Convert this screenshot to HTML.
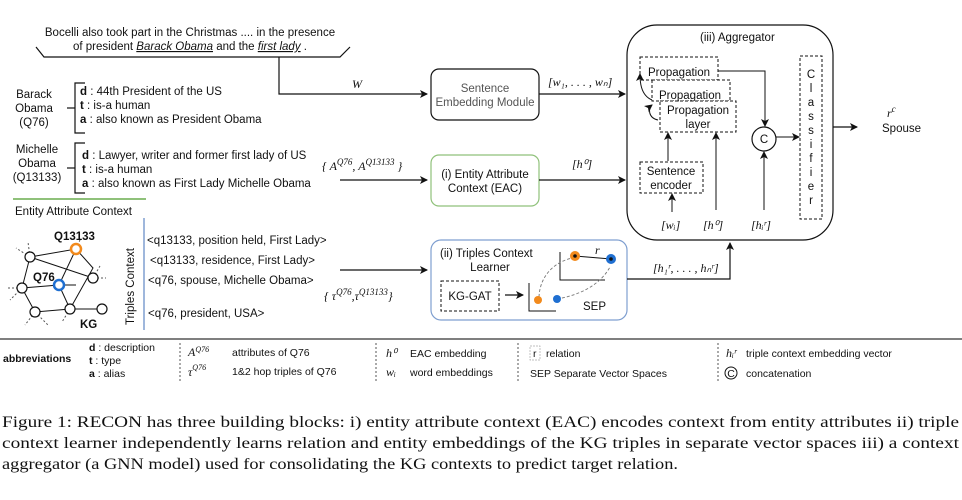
<!DOCTYPE html>
<html><head><meta charset="utf-8"><style>
html,body{margin:0;padding:0;background:#fff;}
svg{display:block;font-family:"Liberation Sans",sans-serif;}
.s{font-size:11.5px;fill:#111;}
.g{font-size:11.5px;fill:#555;}
.m{font-family:"Liberation Serif",serif;font-style:italic;font-size:12px;fill:#111;}
.cap{font-family:"Liberation Serif",serif;font-size:16px;fill:#111;}
.lg{font-size:10.5px;fill:#111;}
</style></head><body>
<svg width="962" height="500" viewBox="0 0 962 500" xmlns="http://www.w3.org/2000/svg">
<defs><marker id="a" markerWidth="8" markerHeight="8" refX="7" refY="4" orient="auto" markerUnits="userSpaceOnUse"><path d="M0,0 L8,4 L0,8 L2,4 z" fill="#111"/></marker></defs>
<g stroke="#111" fill="none" stroke-width="1.2">
<polyline points="36,47 44,57 340,57 350,47"/>
<polyline points="279,57 279,94 427,94" marker-end="url(#a)"/>
<rect x="431" y="69" width="108" height="51" rx="8"/>
<line x1="539" y1="94" x2="625" y2="94" marker-end="url(#a)"/>
<rect x="431" y="155" width="108" height="51" rx="8" stroke="#8fc17a"/>
<line x1="539" y1="180" x2="625" y2="180" marker-end="url(#a)"/>
<line x1="340" y1="180" x2="427" y2="180" marker-end="url(#a)"/>
<line x1="340" y1="270" x2="427" y2="270" marker-end="url(#a)"/>
<rect x="431" y="240" width="196" height="80" rx="10" stroke="#7f9fd0"/>
<polyline points="627,279 730,279 730,243" marker-end="url(#a)"/>
<rect x="627" y="25" width="206" height="215" rx="30"/>
<line x1="833" y1="127" x2="857" y2="127" marker-end="url(#a)"/>
<g stroke-dasharray="3,2" stroke-width="1">
<rect x="640" y="57" width="78" height="23" fill="#fff"/>
<rect x="652" y="80" width="78" height="21" fill="#fff"/>
<rect x="660" y="101" width="76" height="31" fill="#fff"/>
<rect x="640" y="162" width="63" height="31"/>
<rect x="800" y="56" width="22" height="163"/>
<rect x="441" y="281" width="58" height="30"/>
</g>
<polyline points="718,71 765,71 765,126" marker-end="url(#a)" stroke-width="1"/>
<circle cx="764" cy="139" r="12"/>
<line x1="776" y1="137" x2="799" y2="137" marker-end="url(#a)" stroke-width="1"/>
<line x1="764" y1="210" x2="764" y2="152" marker-end="url(#a)" stroke-width="1"/>
<line x1="716" y1="210" x2="716" y2="133" marker-end="url(#a)" stroke-width="1"/>
<line x1="668" y1="161" x2="668" y2="133" marker-end="url(#a)" stroke-width="1"/>
<line x1="672" y1="212" x2="672" y2="194" marker-end="url(#a)" stroke-width="1"/>
<path d="M658,120 C648,118 648,108 652,105" stroke-width="1" marker-end="url(#a)"/>
<path d="M652,100 C640,95 640,80 640,74" stroke-width="1" marker-end="url(#a)"/>
<line x1="505" y1="295" x2="523" y2="295" marker-end="url(#a)"/>
<polyline points="529,283 529,311 556,311" stroke-width="1"/>
<polyline points="560,252 560,280 605,280" stroke-width="1"/>
<line x1="575" y1="256" x2="611" y2="259" stroke-width="1"/>
<g stroke="#777" stroke-dasharray="3,2" stroke-width="0.9"><path d="M539,297 C540,275 555,262 572,258"/><path d="M557,299 C580,295 600,285 610,267"/></g>
<polyline points="85,83 75,83 75,133 85,133"/><line x1="67" y1="108" x2="75" y2="108"/>
<polyline points="85,143 75,143 75,193 85,193"/><line x1="67" y1="168" x2="75" y2="168"/>
<line x1="13" y1="199" x2="146" y2="199" stroke="#8fc17a" stroke-width="2"/>
<line x1="144" y1="218" x2="144" y2="330" stroke="#7f9fd0" stroke-width="1.5"/>
<g stroke-width="1"><polyline points="30,257 76,249 93,268 70,309 35,312 22,288 30,257"/>
<line x1="30" y1="257" x2="93" y2="278"/><line x1="76" y1="249" x2="59" y2="285"/><line x1="22" y1="288" x2="59" y2="285"/><line x1="59" y1="285" x2="70" y2="309"/><line x1="70" y1="309" x2="102" y2="309"/><line x1="59" y1="285" x2="76" y2="285"/>
<g stroke-dasharray="2,2" stroke="#555"><line x1="30" y1="257" x2="16" y2="248"/><line x1="30" y1="257" x2="28" y2="242"/><line x1="93" y1="278" x2="106" y2="278"/><line x1="93" y1="278" x2="100" y2="266"/><line x1="22" y1="288" x2="6" y2="288"/><line x1="22" y1="288" x2="10" y2="300"/><line x1="35" y1="312" x2="25" y2="325"/><line x1="35" y1="312" x2="48" y2="325"/><line x1="70" y1="309" x2="62" y2="322"/><line x1="76" y1="249" x2="80" y2="240"/></g></g>
</g>
<g stroke="#111" stroke-width="1.2" fill="#fff">
<circle cx="30" cy="257" r="5"/><circle cx="93" cy="278" r="5"/><circle cx="22" cy="288" r="5"/><circle cx="35" cy="312" r="5"/><circle cx="70" cy="309" r="5"/><circle cx="102" cy="309" r="5"/>
</g>
<circle cx="76" cy="249" r="5" fill="#fff" stroke="#f28a1c" stroke-width="2.5"/>
<circle cx="59" cy="285" r="5" fill="#fff" stroke="#1f6fd1" stroke-width="2.5"/>
<circle cx="575" cy="256" r="5" fill="#f28a1c"/><circle cx="575" cy="256" r="1.8" fill="#111"/>
<circle cx="611" cy="259" r="5" fill="#1f6fd1"/><circle cx="611" cy="259" r="1.8" fill="#111"/>
<circle cx="538" cy="300" r="4" fill="#f28a1c"/><circle cx="557" cy="299" r="4" fill="#1f6fd1"/>
<text class="s" x="190" y="36" text-anchor="middle">Bocelli also took part in the Christmas .... in the presence</text>
<text class="s" x="190" y="50" text-anchor="middle">of president <tspan text-decoration="underline" font-style="italic">Barack Obama</tspan> and the <tspan text-decoration="underline" font-style="italic">first lady</tspan> .</text>
<text class="m" x="352" y="88" font-size="16">W</text>
<text class="g" x="485" y="92" text-anchor="middle">Sentence</text>
<text class="g" x="485" y="106" text-anchor="middle">Embedding Module</text>
<text class="m" x="548" y="86">[w₁, . . . , wₙ]</text>
<text class="s" x="485" y="178" text-anchor="middle">(i) Entity Attribute</text>
<text class="s" x="485" y="192" text-anchor="middle">Context (EAC)</text>
<text class="m" x="572" y="168" font-size="14">[h⁰]</text>
<text class="m" x="322" y="170">{ A<tspan dy="-5" font-size="9">Q76</tspan><tspan dy="5">, A</tspan><tspan dy="-5" font-size="9">Q13133</tspan><tspan dy="5"> }</tspan></text>
<text class="m" x="324" y="300">{ τ<tspan dy="-5" font-size="9">Q76</tspan><tspan dy="5">,τ</tspan><tspan dy="-5" font-size="9">Q13133</tspan><tspan dy="5">}</tspan></text>
<text class="s" x="440" y="257">(ii) Triples Context</text>
<text class="s" x="490" y="271" text-anchor="middle">Learner</text>
<text class="s" x="470" y="300" text-anchor="middle">KG-GAT</text>
<text class="s" x="583" y="310">SEP</text>
<text class="m" x="595" y="254" font-size="13">r</text>
<text class="m" x="653" y="272">[h₁ʳ, . . . , hₙʳ]</text>
<text class="s" x="700" y="41" font-size="11">(iii) Aggregator</text>
<text class="s" x="679" y="76" text-anchor="middle">Propagation</text>
<text class="s" x="690" y="99" text-anchor="middle">Propagation</text>
<text class="s" x="698" y="114" text-anchor="middle">Propagation</text>
<text class="s" x="698" y="128" text-anchor="middle">layer</text>
<text class="s" x="671" y="175" text-anchor="middle">Sentence</text>
<text class="s" x="671" y="189" text-anchor="middle">encoder</text>
<text class="s" x="764" y="143" text-anchor="middle">C</text>
<g class="s" text-anchor="middle"><text x="811" y="78">C</text><text x="811" y="92">l</text><text x="811" y="106">a</text><text x="811" y="120">s</text><text x="811" y="134">s</text><text x="811" y="148">i</text><text x="811" y="162">f</text><text x="811" y="176">i</text><text x="811" y="190">e</text><text x="811" y="204">r</text></g>
<text class="m" x="661" y="229">[wᵢ]</text><text class="m" x="703" y="229">[h⁰]</text><text class="m" x="751" y="229">[hᵢʳ]</text>
<text class="m" x="887" y="117" font-size="13">r<tspan dy="-5" font-size="9">c</tspan></text>
<text class="s" x="882" y="132">Spouse</text>
<text class="s" x="34" y="98" text-anchor="middle">Barack</text><text class="s" x="34" y="112" text-anchor="middle">Obama</text><text class="s" x="34" y="126" text-anchor="middle">(Q76)</text>
<text class="s" x="80" y="95"><tspan font-weight="bold">d</tspan> : 44th President of the US</text>
<text class="s" x="80" y="109"><tspan font-weight="bold">t</tspan>  : is-a human</text>
<text class="s" x="80" y="123"><tspan font-weight="bold">a</tspan> : also known as President Obama</text>
<text class="s" x="37" y="153" text-anchor="middle">Michelle</text><text class="s" x="37" y="167" text-anchor="middle">Obama</text><text class="s" x="37" y="181" text-anchor="middle">(Q13133)</text>
<text class="s" x="82" y="159"><tspan font-weight="bold">d</tspan> : Lawyer, writer and former first lady of  US</text>
<text class="s" x="82" y="173"><tspan font-weight="bold">t</tspan>  : is-a human</text>
<text class="s" x="82" y="187"><tspan font-weight="bold">a</tspan> : also known as First Lady Michelle Obama</text>
<text class="s" x="15" y="215">Entity Attribute Context</text>
<text class="s" x="54" y="240" font-weight="bold">Q13133</text>
<text class="s" x="33" y="281" font-weight="bold">Q76</text>
<text class="s" x="80" y="328" font-weight="bold" font-size="15">KG</text>
<text class="s" transform="translate(134,325) rotate(-90)">Triples Context</text>
<text class="s" x="147" y="244">&lt;q13133, position held, First Lady&gt;</text>
<text class="s" x="150" y="264">&lt;q13133, residence, First Lady&gt;</text>
<text class="s" x="148" y="284">&lt;q76, spouse, Michelle Obama&gt;</text>
<text class="s" x="148" y="317">&lt;q76, president, USA&gt;</text>
<line x1="0" y1="339" x2="962" y2="339" stroke="#333" stroke-width="1.2"/>
<g stroke="#555" stroke-dasharray="2,2"><line x1="180" y1="343" x2="180" y2="382"/><line x1="376" y1="343" x2="376" y2="382"/><line x1="518" y1="343" x2="518" y2="382"/><line x1="718" y1="343" x2="718" y2="382"/></g>
<text class="lg" x="3" y="362" font-weight="bold">abbreviations</text>
<text class="lg" x="89" y="351"><tspan font-weight="bold">d</tspan> : description</text>
<text class="lg" x="89" y="364"><tspan font-weight="bold">t</tspan> : type</text>
<text class="lg" x="89" y="377"><tspan font-weight="bold">a</tspan> : alias</text>
<text class="m" x="188" y="356" font-size="11">A<tspan dy="-4" font-size="8">Q76</tspan></text>
<text class="lg" x="232" y="356">attributes of Q76</text>
<text class="m" x="188" y="376" font-size="11">τ<tspan dy="-6" font-size="8">Q76</tspan></text>
<text class="lg" x="232" y="375">1&amp;2 hop triples of Q76</text>
<text class="m" x="386" y="357" font-size="11">h⁰</text><text class="lg" x="410" y="357">EAC embedding</text>
<text class="m" x="386" y="376" font-size="11">wᵢ</text><text class="lg" x="410" y="376">word embeddings</text>
<rect x="530" y="346" width="10" height="14" fill="none" stroke="#aaa" stroke-dasharray="2,1" stroke-width="0.7"/>
<text class="lg" x="533" y="357">r</text><text class="lg" x="546" y="357">relation</text>
<text class="lg" x="530" y="377">SEP Separate Vector Spaces</text>
<text class="m" x="726" y="357" font-size="11">hᵢʳ</text><text class="lg" x="746" y="357">triple context embedding vector</text>
<circle cx="731" cy="373" r="6" fill="none" stroke="#111"/><text class="lg" x="731" y="377" text-anchor="middle" font-size="9">C</text>
<text class="lg" x="746" y="377">concatenation</text>
<text class="cap" x="2" y="427" textLength="957" lengthAdjust="spacingAndGlyphs">Figure 1: RECON has three building blocks: i) entity attribute context (EAC) encodes context from entity attributes ii) triple</text>
<text class="cap" x="2" y="448" textLength="957" lengthAdjust="spacingAndGlyphs">context learner independently learns relation and entity embeddings of the KG triples in separate vector spaces iii) a context</text>
<text class="cap" x="2" y="469" textLength="676" lengthAdjust="spacingAndGlyphs">aggregator (a GNN model) used for consolidating the KG contexts to predict target relation.</text>
</svg>
</body></html>
